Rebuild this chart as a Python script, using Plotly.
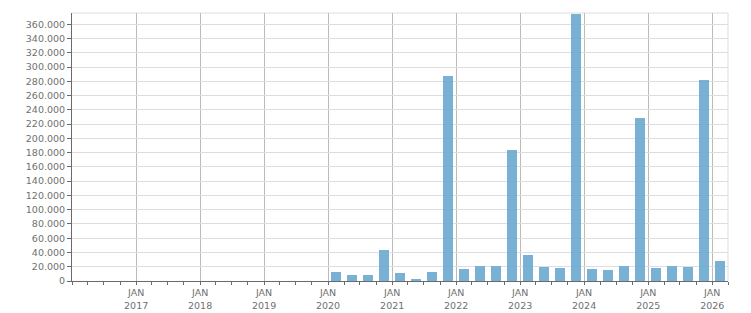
import plotly.graph_objects as go

quarters = [
    "2020-01-01", "2020-04-01", "2020-07-01", "2020-10-01",
    "2021-01-01", "2021-04-01", "2021-07-01", "2021-10-01",
    "2022-01-01", "2022-04-01", "2022-07-01", "2022-10-01",
    "2023-01-01", "2023-04-01", "2023-07-01", "2023-10-01",
    "2024-01-01", "2024-04-01", "2024-07-01", "2024-10-01",
    "2025-01-01", "2025-04-01", "2025-07-01", "2025-10-01",
    "2026-01-01",
]
values = [
    12650, 8430, 8430, 43570,
    11240, 2810, 12650, 287700,
    16440, 20640, 20640, 183700,
    36100, 19250, 17850, 374800,
    16440, 15040, 20640, 228700,
    17850, 20640, 19250, 282100,
    27690,
]
tick_dates = ["%d-01-01" % y for y in range(2017, 2027)]
tick_labels = ["JAN<br>%d" % y for y in range(2017, 2027)]

BAR_COLOR = "#78b1d4"
TEXT_COLOR = "#707070"
AXIS_COLOR = "#6a6a6a"

fig = go.Figure()
fig.add_trace(go.Bar(
    x=quarters,
    y=values,
    xperiod="M3",
    xperiodalignment="middle",
    width=57 * 86400000,
    marker=dict(color=BAR_COLOR, line=dict(width=0)),
    hoverinfo="x+y",
))

fig.update_layout(
    width=751, height=313,
    margin=dict(l=72, r=23, t=13, b=32),
    paper_bgcolor="white", plot_bgcolor="white",
    separators=",.",
    showlegend=False,
    font=dict(family="DejaVu Sans, Verdana, sans-serif", size=9.5, color=TEXT_COLOR),
    bargap=0,
    shapes=[
        dict(type="line", xref="paper", yref="paper", x0=0, x1=1, y0=1, y1=1,
             line=dict(color="#dddddd", width=1), layer="below"),
        dict(type="line", xref="paper", yref="paper", x0=1, x1=1, y0=0, y1=1,
             line=dict(color="#dddddd", width=1), layer="below"),
    ],
)

fig.update_xaxes(
    type="date",
    range=["2016-01-01", "2026-04-01"],
    tickmode="array",
    tickvals=tick_dates,
    ticktext=tick_labels,
    automargin=False,
    showgrid=True, gridcolor="#bbbbbb", gridwidth=1,
    showline=True, linecolor=AXIS_COLOR, linewidth=1,
    ticks="outside", ticklen=3, tickcolor=AXIS_COLOR,
    minor=dict(dtick="M3", tick0="2016-01-01", ticks="outside", ticklen=3,
               tickcolor=AXIS_COLOR, showgrid=False),
    zeroline=False,
    fixedrange=True,
)

fig.update_yaxes(
    range=[0, 375800],
    dtick=20000, tick0=0,
    tickformat=",d",
    automargin=False,
    showgrid=True, gridcolor="#dddddd", gridwidth=1,
    showline=True, linecolor=AXIS_COLOR, linewidth=1,
    ticks="outside", ticklen=4, tickcolor=AXIS_COLOR,
    zeroline=False,
    fixedrange=True,
)

fig.write_html("out.html")
